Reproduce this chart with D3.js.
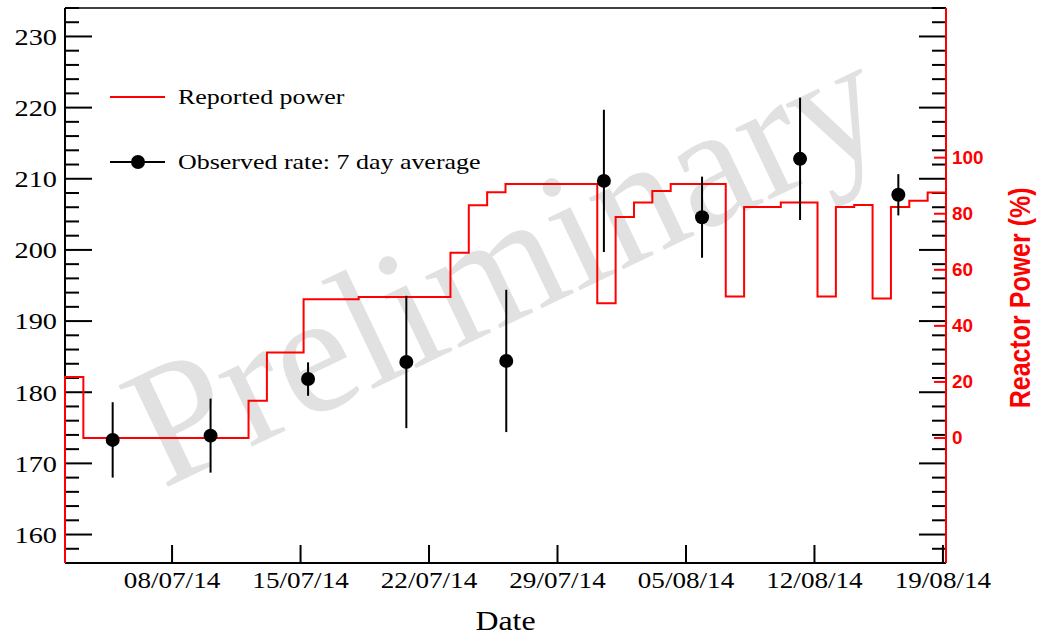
<!DOCTYPE html>
<html><head><meta charset="utf-8">
<script src="https://cdn.jsdelivr.net/npm/d3@7"></script>
<style>body{margin:0;background:#fff} svg{display:block}</style>
</head><body><svg id="c" width="1048" height="637"></svg>
<script>
// ---------- data ----------
const xDomain = ["2014-07-02T04:00Z", "2014-08-19T04:00Z"];
const rateDomain = [156, 234];
const powerDomain = [-44.6, 153.4];
const rateTicks = [160, 170, 180, 190, 200, 210, 220, 230];
const powerTicks = [0, 20, 40, 60, 80, 100];
const dateTicks = ["2014-07-08", "2014-07-15", "2014-07-22", "2014-07-29", "2014-08-05", "2014-08-12", "2014-08-19"];

const rateDates = ["2014-07-04T18:20Z", "2014-07-10T02:20Z", "2014-07-15T09:50Z", "2014-07-20T18:20Z", "2014-07-26T05:00Z",
                   "2014-07-31T12:40Z", "2014-08-05T21:00Z", "2014-08-11T05:10Z", "2014-08-16T13:40Z"];
const rateValues = [173.3, 173.9, 181.85, 184.25, 184.4, 209.7, 204.6, 212.8, 207.75];
const rateErrors = [5.3, 5.2, 2.35, 9.3, 10.0, 10.0, 5.7, 8.6, 2.9];

const powerEdges = [
  "2014-07-02T04:00Z","2014-07-03T04:00Z","2014-07-04T04:00Z","2014-07-05T04:00Z","2014-07-06T04:00Z","2014-07-07T04:00Z",
  "2014-07-08T04:00Z","2014-07-09T04:00Z","2014-07-10T04:00Z","2014-07-11T04:00Z","2014-07-12T04:00Z","2014-07-13T04:00Z",
  "2014-07-14T04:00Z","2014-07-15T04:00Z","2014-07-16T04:00Z","2014-07-17T04:00Z","2014-07-18T04:00Z","2014-07-19T04:00Z",
  "2014-07-20T04:00Z","2014-07-21T04:00Z","2014-07-22T04:00Z","2014-07-23T04:00Z","2014-07-24T04:00Z","2014-07-25T04:00Z",
  "2014-07-26T04:00Z","2014-07-27T04:00Z","2014-07-28T04:00Z","2014-07-29T04:00Z","2014-07-30T04:00Z","2014-07-31T04:00Z",
  "2014-08-01T04:00Z","2014-08-02T04:00Z","2014-08-03T04:00Z","2014-08-04T04:00Z","2014-08-05T04:00Z","2014-08-06T04:00Z",
  "2014-08-07T04:00Z","2014-08-08T04:00Z","2014-08-09T04:00Z","2014-08-10T04:00Z","2014-08-11T04:00Z","2014-08-12T04:00Z",
  "2014-08-13T04:00Z","2014-08-14T04:00Z","2014-08-15T04:00Z","2014-08-16T04:00Z","2014-08-17T04:00Z","2014-08-18T04:00Z",
  "2014-08-19T04:00Z"];
const powerValues = [
  21.8, 0, 0, 0, 0, 0, 0, 0, 0, 0,
  13.3, 30.5, 30.5, 49.5, 49.5, 49.5, 50.3, 50.3, 50.3, 50.3,
  50.3, 66.1, 83.0, 87.7, 90.6, 90.6, 90.6, 90.6, 90.6, 48.1,
  78.8, 84.0, 88.1, 90.6, 90.6, 90.6, 50.5, 82.4, 82.4, 84.0,
  84.0, 50.5, 82.4, 83.1, 49.8, 82.4, 84.6, 87.6];

const legendLabels = ["Reported power", "Observed rate: 7 day average"];
const xTitle = "Date";
const yRightTitle = "Reactor Power (%)";
const watermark = "Preliminary";

// ---------- layout ----------
const L = 65, R = 946, T = 8, B = 563;
const SX = 1.18; // horizontal stretch of glyphs
const serif = "'Liberation Serif','Times New Roman',serif";
const sans = "'Liberation Sans',Arial,sans-serif";
const RED = "#ff0000";

const svg = d3.select("#c");
const x = d3.scaleUtc().domain(xDomain.map(d => new Date(d))).range([L, R]);
const y = d3.scaleLinear().domain(rateDomain).range([B, T]);
const yp = d3.scaleLinear().domain(powerDomain).range([B, T]);

function txt(g, px, py, s, o) {
  const t = g.append("text")
    .attr("transform", `translate(${px},${py}) scale(${o.sx || SX},1)` + (o.rot ? ` rotate(${o.rot})` : ""))
    .attr("font-family", o.family || serif)
    .attr("font-size", o.size)
    .attr("font-weight", o.weight || "normal")
    .attr("fill", o.fill || "#000")
    .attr("text-anchor", o.anchor || "start")
    .text(s);
  if (o.dy) t.attr("dy", o.dy);
  return t;
}

// watermark
txt(svg, 503, 260, watermark, {size: 172, sx: 1.0, fill: "#e1e1e1", anchor: "middle", rot: -25.5, dy: "0.35em"});

// frame & left axis
const ax = svg.append("g").attr("stroke", "#000").attr("stroke-width", 2).attr("fill", "none");
ax.append("line").attr("x1", L).attr("x2", R).attr("y1", T).attr("y2", T).attr("stroke-width", 1.5);
ax.append("line").attr("x1", L).attr("x2", R).attr("y1", B).attr("y2", B);
ax.append("line").attr("x1", L).attr("x2", L).attr("y1", T).attr("y2", B);

const minor = d3.range(rateDomain[0], rateDomain[1] + 0.001, 2);
minor.forEach(v => {
  const major = rateTicks.includes(v);
  const len = major ? 27 : 14;
  ax.append("line").attr("x1", L).attr("x2", L + len).attr("y1", y(v)).attr("y2", y(v));
  ax.append("line").attr("x1", R).attr("x2", R - len).attr("y1", y(v)).attr("y2", y(v));
});
rateTicks.forEach(v => txt(svg, 57, y(v), String(v), {size: 24, anchor: "end", dy: "0.35em"}));

// x axis
dateTicks.forEach(d => {
  const dt = new Date(d + "T00:00Z");
  ax.append("line").attr("x1", x(dt)).attr("x2", x(dt)).attr("y1", B).attr("y2", B - 18);
  txt(svg, x(dt), 588, d3.utcFormat("%d/%m/%y")(dt), {size: 23, anchor: "middle"});
});
txt(svg, (L + R) / 2, 630, xTitle, {size: 27, anchor: "middle"});

// reported power histogram
const pts = [[x(new Date(powerEdges[0])), B]];
powerValues.forEach((v, i) => {
  pts.push([x(new Date(powerEdges[i])), yp(v)]);
  pts.push([x(new Date(powerEdges[i + 1])), yp(v)]);
});
pts.push([x(new Date(powerEdges[powerEdges.length - 1])), B]);
svg.append("path").attr("d", d3.line()(pts)).attr("fill", "none").attr("stroke", RED).attr("stroke-width", 2);

// observed rate points
const pg = svg.append("g");
rateValues.forEach((v, i) => {
  const cx = x(new Date(rateDates[i]));
  pg.append("line").attr("x1", cx).attr("x2", cx).attr("y1", y(v - rateErrors[i])).attr("y2", y(v + rateErrors[i]))
    .attr("stroke", "#000").attr("stroke-width", 2);
  pg.append("circle").attr("cx", cx).attr("cy", y(v)).attr("r", 7).attr("fill", "#000");
});

// right power axis
const ra = svg.append("g");
ra.append("line").attr("x1", R).attr("x2", R).attr("y1", T).attr("y2", B).attr("stroke", RED).attr("stroke-width", 2);
powerTicks.forEach(p => {
  ra.append("line").attr("x1", R).attr("x2", R - 12).attr("y1", yp(p)).attr("y2", yp(p)).attr("stroke", RED).attr("stroke-width", 2);
  txt(ra, 952, yp(p), String(p), {size: 18, family: sans, weight: "bold", fill: RED, dy: "0.35em", sx: 1.05});
});
txt(ra, 1030, (yp(0) + yp(100)) / 2, yRightTitle, {size: 25, family: sans, weight: "bold", fill: RED, anchor: "middle", rot: -90});

// legend
const lg = svg.append("g");
lg.append("line").attr("x1", 110).attr("x2", 165).attr("y1", 97).attr("y2", 97).attr("stroke", RED).attr("stroke-width", 2);
txt(lg, 178, 104, legendLabels[0], {size: 22});
lg.append("line").attr("x1", 110).attr("x2", 165).attr("y1", 162).attr("y2", 162).attr("stroke", "#000").attr("stroke-width", 2);
lg.append("circle").attr("cx", 138).attr("cy", 162).attr("r", 7).attr("fill", "#000");
txt(lg, 178, 169, legendLabels[1], {size: 22});
</script></body></html>
